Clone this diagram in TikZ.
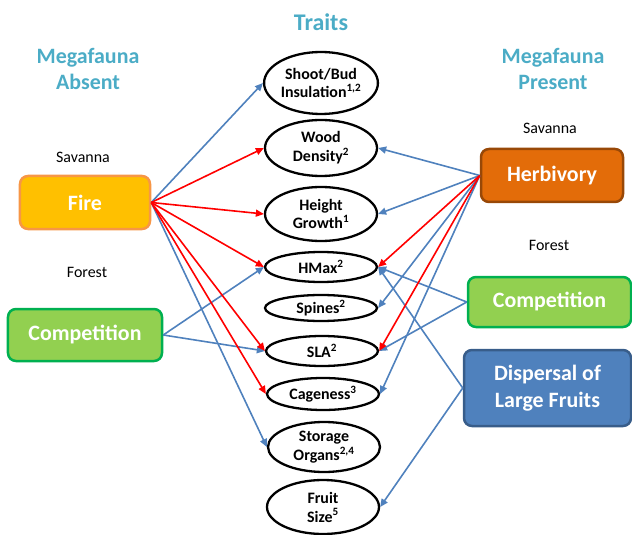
\documentclass[tikz,border=0pt]{standalone}
\usepackage{fontspec}
\setmainfont{Carlito}
\usetikzlibrary{shapes.geometric,arrows.meta}
\definecolor{ttlblue}{HTML}{4BACC6}
\definecolor{lineblue}{HTML}{4F81BD}
\definecolor{firefill}{HTML}{FFC000}
\definecolor{fireedge}{HTML}{F79646}
\definecolor{compfill}{HTML}{92D050}
\definecolor{compedge}{HTML}{00B050}
\definecolor{herbfill}{HTML}{E36C09}
\definecolor{herbedge}{HTML}{984807}
\definecolor{dispedge}{HTML}{385D8A}
\begin{document}
\begin{tikzpicture}[x=1bp,y=-1bp,
 traitnode/.style={draw=black,line width=2.3bp,ellipse,fill=white,minimum width=112bp,
  inner sep=0pt,align=center,font=\bfseries\fontsize{16}{19}\selectfont},
 causebox/.style={rounded corners=8bp,line width=2.5bp,text=white,align=center,
  inner sep=0pt,font=\bfseries\fontsize{22}{27}\selectfont},
 headtext/.style={text=ttlblue,align=center,font=\bfseries\fontsize{22}{27}\selectfont},
 habitat/.style={font=\fontsize{16}{19}\selectfont},
 bluearrow/.style={draw=lineblue,line width=1.6bp,-{Triangle[length=8bp,width=7bp]}},
 redarrow/.style={draw=red,line width=1.6bp,-{Triangle[length=8bp,width=7bp]}}]
\useasboundingbox (0,0) rectangle (632,535);
% headings
\node[headtext,font=\bfseries\fontsize{24}{28}\selectfont] (traits) at (321,22) {Traits};
\node[headtext] (absent) at (88,69) {Megafauna\\Absent};
\node[headtext] (present) at (553,69) {Megafauna\\Present};
\node[habitat] (savl) at (83,157) {Savanna};
\node[habitat] (forl) at (87,272) {Forest};
\node[habitat] (savr) at (550,128) {Savanna};
\node[habitat] (forr) at (549,245) {Forest};
% drivers
\node[causebox,fill=firefill,draw=fireedge,minimum width=130bp,minimum height=53bp] (fire) at (85,202.5) {Fire};
\node[causebox,fill=compfill,draw=compedge,minimum width=154bp,minimum height=52bp] (compl) at (85,335) {Competition};
\node[causebox,fill=herbfill,draw=herbedge,minimum width=142bp,minimum height=53bp] (herb) at (552,175.5) {Herbivory};
\node[causebox,fill=compfill,draw=compedge,minimum width=163bp,minimum height=50bp] (compr) at (549.5,302) {Competition};
\node[causebox,fill=lineblue,draw=dispedge,minimum width=167bp,minimum height=76bp] (disp) at (547.5,388) {Dispersal of\\Large Fruits};
% traits
\node[traitnode,minimum height=62bp] (shoot) at (321,83) {Shoot/Bud\\Insulation\textsuperscript{1,2}};
\node[traitnode,minimum height=56bp] (wood) at (321,148) {Wood\\Density\textsuperscript{2}};
\node[traitnode,minimum height=54bp] (height) at (321,214) {Height\\Growth\textsuperscript{1}};
\node[traitnode,minimum height=30bp] (hmax) at (321,267) {HMax\textsuperscript{2}};
\node[traitnode,minimum height=26bp] (spines) at (321,308) {Spines\textsuperscript{2}};
\node[traitnode,minimum height=30bp] (sla) at (322,351) {SLA\textsuperscript{2}};
\node[traitnode,minimum height=32bp] (cage) at (323,394) {Cageness\textsuperscript{3}};
\node[traitnode,minimum height=50bp] (storage) at (324,447) {Storage\\Organs\textsuperscript{2,4}};
\node[traitnode,minimum height=54bp] (fruit) at (323,507) {Fruit\\Size\textsuperscript{5}};
% links
\draw[bluearrow] (fire.east) -- (shoot.west);
\draw[bluearrow] (fire.east) -- (storage.west);
\draw[bluearrow] (compl.east) -- (hmax.west);
\draw[bluearrow] (compl.east) -- (sla.west);
\foreach \t in {wood,height,spines,cage}
 \draw[bluearrow] (herb.west) -- (\t.east);
\draw[bluearrow] (compr.west) -- (hmax.east);
\draw[bluearrow] (compr.west) -- (sla.east);
\draw[bluearrow] (disp.west) -- (hmax.east);
\draw[bluearrow] (disp.west) -- (fruit.east);
\foreach \t in {wood,height,hmax,sla,cage}
 \draw[redarrow] (fire.east) -- (\t.west);
\draw[redarrow] (herb.west) -- (hmax.east);
\draw[redarrow] (herb.west) -- (sla.east);
\end{tikzpicture}
\end{document}
